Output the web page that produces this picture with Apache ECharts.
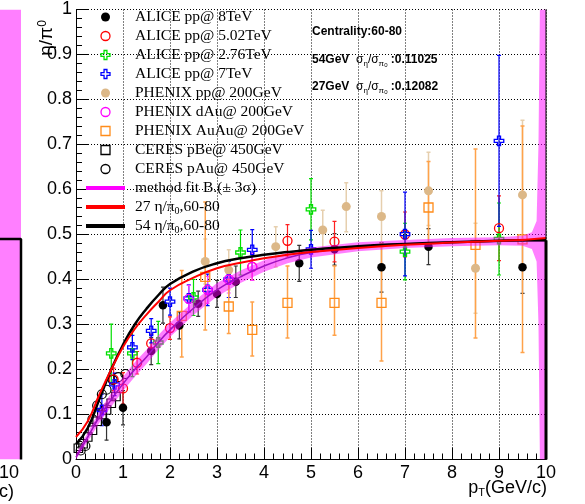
<!DOCTYPE html>
<html><head><meta charset="utf-8">
<script src="https://cdn.jsdelivr.net/npm/echarts@6/dist/echarts.min.js"></script>
<style>html,body{margin:0;padding:0;background:#fff}#c{width:585px;height:504px}</style>
</head><body><div id="c"></div>
<script>
// ---- tick labels ----
const xTicks = [0,1,2,3,4,5,6,7,8,9,10];
const yTicks = [0,0.1,0.2,0.3,0.4,0.5,0.6,0.7,0.8,0.9,1];

// ---- ALICE pp 8TeV (black filled circle) ----
const alice8X   = [0.65, 1.0, 1.6, 1.85, 2.2, 2.6, 3.0, 3.4, 4.75, 5.5, 6.5, 7.5, 9.5];
const alice8Y   = [0.083, 0.115, 0.241, 0.343, 0.298, 0.346, 0.368, 0.395, 0.436, 0.467, 0.427, 0.473, 0.427];
const alice8Err = [0.04, 0.038, 0.03, 0.04, 0.03, 0.028, 0.03, 0.035, 0.04, 0.035, 0.055, 0.04, 0.058];
// ---- ALICE pp 5.02TeV (red open circle) ----
const alice5X   = [0.8, 1.0, 1.3, 1.6, 2.0, 3.75, 4.5, 5.5, 7.0, 9.0];
const alice5Y   = [0.178, 0.158, 0.215, 0.258, 0.292, 0.428, 0.486, 0.484, 0.5, 0.514];
const alice5Err = [0.025, 0.035, 0.025, 0.02, 0.025, 0.03, 0.036, 0.045, 0.05, 0.072];
// ---- ALICE pp 2.76TeV (green open cross) ----
const alice2X   = [0.75, 1.2, 1.75, 2.5, 3.5, 5.0, 7.0, 9.0];
const alice2Y   = [0.236, 0.236, 0.26, 0.36, 0.46, 0.556, 0.462, 0.49];
const alice2Err = [0.065, 0.052, 0.047, 0.04, 0.05, 0.068, 0.063, 0.08];
// ---- ALICE pp 7TeV (blue open cross) ----
const alice7X   = [0.55, 0.82, 1.2, 1.6, 2.0, 2.4, 2.8, 3.25, 3.75, 5.0, 7.0, 9.0];
const alice7Y   = [0.11, 0.167, 0.249, 0.286, 0.351, 0.358, 0.377, 0.40, 0.466, 0.467, 0.501, 0.708];
const alice7Err = [0.035, 0.025, 0.027, 0.027, 0.03, 0.03, 0.035, 0.04, 0.045, 0.042, 0.093, 0.19];
// ---- PHENIX pp 200GeV (tan filled circle) ----
const phppX  = [2.75, 3.25, 4.25, 5.25, 5.75, 6.5, 7.5, 8.5, 9.5];
const phppY  = [0.44, 0.421, 0.473, 0.51, 0.562, 0.54, 0.597, 0.425, 0.588];
const phppLo = [0.39, 0.377, 0.428, 0.466, 0.506, 0.472, 0.52, 0.325, 0.49];
const phppHi = [0.49, 0.466, 0.517, 0.554, 0.615, 0.597, 0.683, 0.525, 0.754];
// ---- PHENIX dAu 200GeV (magenta open circle) ----
const phdaX   = [2.4, 2.8, 3.25, 3.75];
const phdaY   = [0.357, 0.377, 0.40, 0.428];
const phdaErr = [0.03, 0.03, 0.03, 0.03];
// ---- PHENIX AuAu 200GeV (orange open square) ----
const phaaX  = [2.25, 2.75, 3.25, 3.75, 4.5, 5.5, 6.5, 7.5, 8.5, 9.5];
const phaaY  = [0.319, 0.406, 0.34, 0.288, 0.348, 0.348, 0.348, 0.56, 0.477, 0.489];
const phaaLo = [0.228, 0.288, 0.28, 0.23, 0.27, 0.276, 0.219, 0.47, 0.27, 0.238];
const phaaHi = [0.42, 0.572, 0.40, 0.35, 0.43, 0.43, 0.48, 0.662, 0.69, 0.741];
// ---- CERES pBe 450GeV (black open square) ----
const cerbeX = [0.05, 0.15, 0.25, 0.35, 0.45, 0.55, 0.65, 0.75, 0.85];
const cerbeY = [0.025, 0.035, 0.05, 0.065, 0.085, 0.1, 0.11, 0.125, 0.14];
// ---- CERES pAu 450GeV (black open circle) ----
const cerauX = [0.1, 0.2, 0.35, 0.45, 0.55, 0.65, 0.78, 0.9, 1.05];
const cerauY = [0.02, 0.03, 0.09, 0.12, 0.145, 0.155, 0.177, 0.183, 0.19];

// ---- curves ----
const curveX = [0,0.25,0.5,0.75,1,1.25,1.5,1.75,2,2.5,3,3.5,4,4.5,5,6,7,8,9,9.5,10];
const fitY   = [0.005,0.05,0.095,0.133,0.168,0.2,0.228,0.26,0.288,0.336,0.377,0.406,0.43,0.448,0.46,0.473,0.479,0.483,0.485,0.486,0.486];
const c54Y   = [0.034,0.07,0.135,0.2,0.255,0.3,0.335,0.365,0.39,0.418,0.436,0.447,0.455,0.461,0.466,0.474,0.479,0.483,0.486,0.487,0.487];
const c27Y   = [0.05,0.085,0.145,0.2,0.25,0.29,0.322,0.35,0.376,0.404,0.425,0.437,0.447,0.455,0.461,0.47,0.477,0.482,0.486,0.488,0.492];
const bandX  = [0,0.25,0.5,0.75,1,1.25,1.5,1.75,2,2.5,3,3.5,4,4.5,5,6,7,8,9,9.5,9.7,9.8,9.84,9.87,10];
const bandLo = [0,0.04,0.082,0.118,0.152,0.184,0.212,0.244,0.272,0.321,0.362,0.392,0.417,0.436,0.449,0.463,0.47,0.474,0.476,0.475,0.468,0.44,0.3,0,0];
const bandHi = [0.012,0.06,0.108,0.148,0.184,0.216,0.244,0.276,0.304,0.351,0.392,0.42,0.443,0.46,0.471,0.483,0.488,0.492,0.494,0.497,0.505,0.53,0.7,1,1];
const edgeX = [10, 10];
const edgeY = [0.487, 0];
const frameY = [0, 1];
// ---- left (cut) panel ----
const stripX = [9, 10];
const stripHi = [1, 1];
const stripLine = [0.49, 0.49];

const pair = (xs, ys) => xs.map((x, i) => [x, ys[i]]);
const CROSS = 'path://M3.4,0H6.6V3.4H10V6.6H6.6V10H3.4V6.6H0V3.4H3.4Z';
const SQUARE = 'path://M0,0H10V10H0Z';

function errBars(xs, lo, hi, color, width, z) {
  return {
    type: 'custom', silent: true, z: z || 2, clip: true,
    data: xs.map((x, i) => [x, lo[i], hi[i]]),
    encode: { x: 0, y: [1, 2] },
    renderItem: (p, api) => {
      const a = api.coord([api.value(0), api.value(1)]);
      const b = api.coord([api.value(0), api.value(2)]);
      const c = 2;
      const st = { stroke: color, lineWidth: width };
      return { type: 'group', children: [
        { type: 'line', shape: { x1: a[0], y1: a[1], x2: b[0], y2: b[1] }, style: st },
        { type: 'line', shape: { x1: a[0]-c, y1: a[1], x2: a[0]+c, y2: a[1] }, style: st },
        { type: 'line', shape: { x1: b[0]-c, y1: b[1], x2: b[0]+c, y2: b[1] }, style: st }
      ]};
    }
  };
}
const lo = (y, e) => y.map((v, i) => v - e[i]);
const hi = (y, e) => y.map((v, i) => v + e[i]);

function scatter(name, xs, ys, symbol, size, fill, border, bw) {
  return { name, type: 'scatter', z: 3, data: pair(xs, ys), symbol, symbolSize: size,
    itemStyle: { color: fill, borderColor: border, borderWidth: bw, opacity: 1 } };
}

const N = {
  a8: 'ALICE pp@ 8TeV', a5: 'ALICE pp@ 5.02TeV', a2: 'ALICE pp@ 2.76TeV', a7: 'ALICE pp@ 7TeV',
  pp: 'PHENIX pp@ 200GeV', da: 'PHENIX dAu@ 200GeV', aa: 'PHENIX AuAu@ 200GeV',
  be: 'CERES pBe@ 450GeV', au: 'CERES pAu@ 450GeV',
  fit: 'method fit B.(\u00b1 3\u03c3)', c27: '27 \u03b7/\u03c00,60-80', c54: '54 \u03b7/\u03c00,60-80'
};

const axisCommon = {
  axisLine: { show: true, lineStyle: { color: '#000', width: 1 } },
  axisTick: { show: true, inside: true, length: 12, lineStyle: { color: '#000', width: 1 } },
  minorTick: { show: true, splitNumber: 5, length: 6, lineStyle: { color: '#000', width: 1 } },
  splitLine: { show: true, lineStyle: { color: '#000', width: 1, type: [1, 2] } },
  axisLabel: { color: '#000', fontFamily: 'Liberation Sans', fontSize: 18, showMinLabel: true, showMaxLabel: true }
};

const chart = echarts.init(document.getElementById('c'), null, { renderer: 'canvas' });
chart.setOption({
  animation: false,
  backgroundColor: '#fff',
  grid: [
    { left: 76, right: 39, top: 9.5, bottom: 44.5 },
    { left: 0, width: 21, top: 9.5, bottom: 44.5 }
  ],
  xAxis: [
    Object.assign({ type: 'value', min: 0, max: 10, interval: 1, gridIndex: 0 }, axisCommon,
      { axisLabel: Object.assign({}, axisCommon.axisLabel, { margin: 5, formatter: v => xTicks.includes(v) ? String(v) : '' }) }),
    { type: 'value', gridIndex: 1, min: 9, max: 10, show: false }
  ],
  yAxis: [
    Object.assign({ type: 'value', min: 0, max: 1, interval: 0.1, gridIndex: 0 }, axisCommon,
      { axisLabel: Object.assign({}, axisCommon.axisLabel, { margin: 4,
        formatter: v => { const t = yTicks.find(k => Math.abs(k - v) < 1e-6); return t === undefined ? '' : (t === 0 ? '0' : (t === 1 ? '1' : t.toFixed(1))); } }) }),
    { type: 'value', gridIndex: 1, min: 0, max: 1, show: false }
  ],
  legend: {
    orient: 'vertical', left: 86, top: 7.5, padding: 0, itemGap: 0, itemWidth: 39, itemHeight: 9,
    selectedMode: false,
    textStyle: { fontFamily: 'Liberation Serif', fontSize: 15.5, color: '#000', lineHeight: 19, padding: [0, 0, 0, 5],
      rich: { sub: { fontSize: 10, lineHeight: 10, verticalAlign: 'bottom', fontFamily: 'Liberation Serif', color: '#000' } } },
    formatter: name => name.replace('\u03c00', '\u03c0{sub|0}'),
    data: [
      { name: N.a8, icon: 'circle', itemStyle: { color: '#000', borderWidth: 0 } },
      { name: N.a5, icon: 'circle', itemStyle: { color: 'transparent', borderColor: '#ff0000', borderWidth: 1.3 } },
      { name: N.a2, icon: CROSS, itemStyle: { color: 'transparent', borderColor: '#00e000', borderWidth: 1.3 } },
      { name: N.a7, icon: CROSS, itemStyle: { color: 'transparent', borderColor: '#0000ff', borderWidth: 1.3 } },
      { name: N.pp, icon: 'circle', itemStyle: { color: '#dcb888', borderWidth: 0 } },
      { name: N.da, icon: 'circle', itemStyle: { color: 'transparent', borderColor: '#ff00ff', borderWidth: 1.3 } },
      { name: N.aa, icon: SQUARE, itemStyle: { color: 'transparent', borderColor: '#ff8c1a', borderWidth: 1.3 } },
      { name: N.be, icon: SQUARE, itemStyle: { color: 'transparent', borderColor: '#000', borderWidth: 1.3 } },
      { name: N.au, icon: 'circle', itemStyle: { color: 'transparent', borderColor: '#000', borderWidth: 1.3 } },
      { name: N.fit, icon: 'path://M0,0H20V2H0Z', itemStyle: { color: '#ff00ff', borderWidth: 0 }, lineStyle: { color: '#ff00ff', width: 4 } },
      { name: N.c27, icon: 'path://M0,0H20V2H0Z', itemStyle: { color: '#ff0000', borderWidth: 0 }, lineStyle: { color: '#ff0000', width: 2.5 } },
      { name: N.c54, icon: 'path://M0,0H20V2H0Z', itemStyle: { color: '#000', borderWidth: 0 }, lineStyle: { color: '#000', width: 2.5 } }
    ]
  },
  series: [
    // error bars
    errBars(alice8X, lo(alice8Y, alice8Err), hi(alice8Y, alice8Err), '#333', 1.2),
    errBars(alice5X, lo(alice5Y, alice5Err), hi(alice5Y, alice5Err), '#ff2020', 1.2),
    errBars(alice2X, lo(alice2Y, alice2Err), hi(alice2Y, alice2Err), '#00e000', 1.2),
    errBars(alice7X, lo(alice7Y, alice7Err), hi(alice7Y, alice7Err), '#0000ff', 1.2),
    errBars(phppX, phppLo, phppHi, '#e6cfae', 1.5),
    errBars(phdaX, lo(phdaY, phdaErr), hi(phdaY, phdaErr), '#ff40ff', 1.2),
    errBars(phaaX, phaaLo, phaaHi, '#ffa24a', 1.5),
    // markers
    scatter(N.be, cerbeX, cerbeY, 'rect', 8.5, 'transparent', '#000', 1.2),
    scatter(N.au, cerauX, cerauY, 'circle', 9, 'transparent', '#000', 1.2),
    scatter(N.pp, phppX, phppY, 'circle', 9, '#dcb888', '#dcb888', 0),
    scatter(N.aa, phaaX, phaaY, 'rect', 9, 'transparent', '#ff8c1a', 1.3),
    scatter(N.a8, alice8X, alice8Y, 'circle', 8.5, '#000', '#000', 0),
    scatter(N.a5, alice5X, alice5Y, 'circle', 9, 'transparent', '#ff0000', 1.3),
    scatter(N.a2, alice2X, alice2Y, CROSS, 9.5, 'transparent', '#00e000', 1.3),
    scatter(N.a7, alice7X, alice7Y, CROSS, 9.5, 'transparent', '#0000ff', 1.3),
    scatter(N.da, phdaX, phdaY, 'circle', 9, 'transparent', '#ff00ff', 1.3),
    // fit band: one polygon through (x, hi) forward and (x, lo) backward
    { type: 'custom', z: 4, silent: true, clip: true,
      data: bandX.map((x, i) => [x, bandLo[i], bandHi[i]]),
      encode: { x: 0, y: [1, 2] },
      renderItem: (p, api) => {
        if (p.dataIndex !== 0) return null;
        const pts = [];
        for (let i = 0; i < bandX.length; i++) pts.push(api.coord([bandX[i], bandHi[i]]));
        for (let i = bandX.length - 1; i >= 0; i--) pts.push(api.coord([bandX[i], bandLo[i]]));
        return { type: 'polygon', shape: { points: pts }, style: { fill: 'rgba(255,0,255,0.5)', stroke: null } };
      } },
    { name: N.fit, type: 'line', z: 5, symbol: 'none', smooth: true, data: pair(curveX, fitY),
      lineStyle: { color: '#a010c0', width: 1.5 }, itemStyle: { color: '#ff00ff' } },
    { name: N.c54, type: 'line', z: 6, symbol: 'none', smooth: true, data: pair(curveX, c54Y),
      lineStyle: { color: '#000', width: 2.5 }, itemStyle: { color: '#000' } },
    { name: N.c27, type: 'line', z: 7, symbol: 'none', smooth: true, data: pair(curveX, c27Y),
      lineStyle: { color: '#ff0000', width: 2 }, itemStyle: { color: '#ff0000' } },
    { type: 'line', z: 8, symbol: 'none', silent: true, data: pair(edgeX, edgeY),
      lineStyle: { color: '#000', width: 3 } },
    { type: 'line', z: 8, symbol: 'none', silent: true, data: pair(edgeX, frameY),
      lineStyle: { color: '#000', width: 1 } },
    // left cut panel
    { type: 'line', xAxisIndex: 1, yAxisIndex: 1, symbol: 'none', silent: true, data: pair(stripX, stripHi),
      lineStyle: { width: 0 }, areaStyle: { color: '#ff00ff', opacity: 0.5 } },
    { type: 'line', xAxisIndex: 1, yAxisIndex: 1, symbol: 'none', silent: true,
      data: pair(stripX, stripLine).concat([[10, 0]]), lineStyle: { color: '#000', width: 2.5 } }
  ],
  graphic: [
    { type: 'text', left: 312, top: 26, style: { text: 'Centrality:60-80', font: 'bold 12px "Liberation Sans"', fill: '#000' } },
    { type: 'text', left: 312, top: 54, style: {
        text: '{b|54GeV  }{n|\u03c3}{s|\u03b7}{n|/\u03c3}{s|\u03c0}{ss|0}{b| :0.11025}',
        rich: { b: { font: 'bold 12px "Liberation Sans"', fill: '#000', lineHeight: 16 },
                n: { font: '12px "Liberation Sans"', fill: '#000', lineHeight: 16 },
                s: { font: '8px "Liberation Sans"', fill: '#000', lineHeight: 8, verticalAlign: 'bottom' },
                ss: { font: '6px "Liberation Sans"', fill: '#000', lineHeight: 5, verticalAlign: 'bottom' } } } },
    { type: 'text', left: 312, top: 81, style: {
        text: '{b|27GeV  }{n|\u03c3}{s|\u03b7}{n|/\u03c3}{s|\u03c0}{ss|0}{b| :0.12082}',
        rich: { b: { font: 'bold 12px "Liberation Sans"', fill: '#000', lineHeight: 16 },
                n: { font: '12px "Liberation Sans"', fill: '#000', lineHeight: 16 },
                s: { font: '8px "Liberation Sans"', fill: '#000', lineHeight: 8, verticalAlign: 'bottom' },
                ss: { font: '6px "Liberation Sans"', fill: '#000', lineHeight: 5, verticalAlign: 'bottom' } } } },
    { type: 'text', x: 47, y: 38, rotation: Math.PI / 2, style: {
        text: '{m|\u03b7/\u03c0}{p|0}', align: 'center', verticalAlign: 'middle',
        rich: { m: { font: '19px "Liberation Sans"', fill: '#000', lineHeight: 20 },
                p: { font: '12px "Liberation Sans"', fill: '#000', lineHeight: 12, verticalAlign: 'top' } } } },
    { type: 'text', right: 38, top: 479, style: {
        text: '{m|p}{s|T}{m|(GeV/c)}',
        rich: { m: { font: '18px "Liberation Sans"', fill: '#000', lineHeight: 20 },
                s: { font: '11px "Liberation Sans"', fill: '#000', lineHeight: 11, verticalAlign: 'bottom' } } } },
    { type: 'text', left: -1, top: 464, style: { text: '10', font: '18px "Liberation Sans"', fill: '#000' } },
    { type: 'text', left: -1, top: 483, style: { text: 'c)', font: '18px "Liberation Sans"', fill: '#000' } }
  ]
});
</script></body></html>
